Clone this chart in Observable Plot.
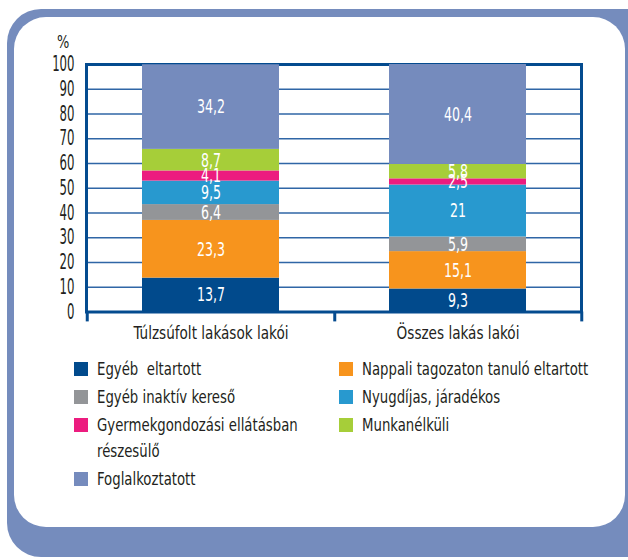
<!DOCTYPE html>
<html>
<head>
<meta charset="utf-8">
<script src="https://cdn.jsdelivr.net/npm/d3@7"></script>
<script src="https://cdn.jsdelivr.net/npm/@observablehq/plot@0.6"></script>
<style>
  html, body { margin: 0; padding: 0; background: #ffffff; }
  body { width: 628px; height: 560px; overflow: hidden; position: relative;
         font-family: "DejaVu Sans Condensed", "Liberation Sans Narrow", "Roboto", sans-serif; color: #231f20; }
  #outer { position: absolute; left: 7px; top: 9px; width: 660px; height: 548px;
           background: #758cbd; border-radius: 34px; }
  #inner { position: absolute; left: 14px; top: 17px; width: 611px; height: 510px;
           background: #ffffff; border-radius: 32px; }
  #chart { position: absolute; left: 0; top: 0; }
  #pct { position: absolute; left: 57px; top: 31px; font-size: 18px; transform: scaleX(0.8); transform-origin: left center; }
  #legend { position: absolute; left: 74px; top: 356px; display: grid;
            grid-template-columns: 265px 260px; row-gap: 2px; font-size: 18px; line-height: 26px; }
  .item { display: flex; align-items: flex-start; }
  .sw { width: 14px; height: 14px; margin-top: 6px; margin-right: 9px; flex: none; }
  .lbl { white-space: pre; display: inline-block; transform: scaleX(0.82); transform-origin: left center; }
</style>
</head>
<body>
<div id="outer"></div>
<div id="inner"></div>
<div id="pct">%</div>
<div id="chart"></div>
<div id="legend"></div>
<script>
const categories = ["Túlzsúfolt lakások lakói", "Összes lakás lakói"];
const series = [
  "Egyéb  eltartott",
  "Nappali tagozaton tanuló eltartott",
  "Egyéb inaktív kereső",
  "Nyugdíjas, járadékos",
  "Gyermekgondozási ellátásban részesülő",
  "Munkanélküli",
  "Foglalkoztatott"
];
const overcrowdedValues = [13.7, 23.3, 6.4, 9.5, 4.1, 8.7, 34.2];
const allDwellingValues = [9.3, 15.1, 5.9, 21, 2.5, 5.8, 40.4];
const seriesColors = ["#014a8c", "#f7941d", "#939598", "#2899cf", "#ec1c7f", "#a6ce39", "#758bbd"];
const yTicks = [0, 10, 20, 30, 40, 50, 60, 70, 80, 90, 100];

const rows = [];
series.forEach((s, i) => {
  rows.push({category: categories[0], series: s, value: overcrowdedValues[i]});
  rows.push({category: categories[1], series: s, value: allDwellingValues[i]});
});
const fmt = v => String(v).replace(".", ",");

const W = 628, H = 345;
const mL = 86, mR = 47, mT = 64, mB = 33.5;
const half = (W - mL - mR) / categories.length / 2;

const chart = Plot.plot({
  width: W, height: H,
  marginLeft: mL, marginRight: mR, marginTop: mT, marginBottom: mB,
  style: {fontFamily: '"DejaVu Sans Condensed", "Liberation Sans Narrow", sans-serif', fontSize: "17px", color: "#231f20", background: "none"},
  x: {domain: categories, paddingInner: 0.446, paddingOuter: 0.223, label: null},
  y: {domain: [0, 100], label: null},
  color: {domain: series, range: seriesColors},
  marks: [
    Plot.gridY(yTicks.slice(1, -1), {stroke: "#2f66a6", strokeWidth: 1.5, strokeOpacity: 1}),
    Plot.frame({stroke: "#044b8f", strokeWidth: 3}),
    Plot.ruleX([categories[0]], {x: d => d, y1: 0, y2: -4, dx: -half, stroke: "#044b8f", strokeWidth: 3}),
    Plot.ruleX(categories, {x: d => d, y1: 0, y2: -4, dx: half, stroke: "#044b8f", strokeWidth: 3}),
    Plot.barY(rows, Plot.stackY({x: "category", y: "value", fill: "series", order: series})),
    Plot.text(rows, Plot.stackY({x: "category", y: "value", z: "series", order: series,
      text: d => fmt(d.value), fill: "white", fontSize: 20})),
    Plot.axisY(yTicks, {tickSize: 0, tickPadding: 12, fontSize: 21, label: null}),
    Plot.axisX({tickSize: 0, tickPadding: 14, fontSize: 18, label: null})
  ]
});
document.getElementById("chart").appendChild(chart);

// condense text horizontally (the reference uses a condensed face)
function condense(selector, s) {
  chart.querySelectorAll(selector).forEach(t => {
    const w = t.getComputedTextLength();
    if (w > 0) {
      t.setAttribute("textLength", (w * s).toFixed(2));
      t.setAttribute("lengthAdjust", "spacingAndGlyphs");
    }
  });
}
condense('g[aria-label="y-axis tick label"] text', 0.62);
condense('g[aria-label="x-axis tick label"] text', 0.84);
condense('g[aria-label="text"] text', 0.7);

const legend = document.getElementById("legend");
series.forEach((name, i) => {
  const item = document.createElement("div");
  item.className = "item";
  const sw = document.createElement("div");
  sw.className = "sw";
  sw.style.background = seriesColors[i];
  const lb = document.createElement("span");
  lb.className = "lbl";
  lb.textContent = name === "Gyermekgondozási ellátásban részesülő"
    ? "Gyermekgondozási ellátásban\nrészesülő" : name;
  item.appendChild(sw); item.appendChild(lb);
  legend.appendChild(item);
});
</script>
</body>
</html>
